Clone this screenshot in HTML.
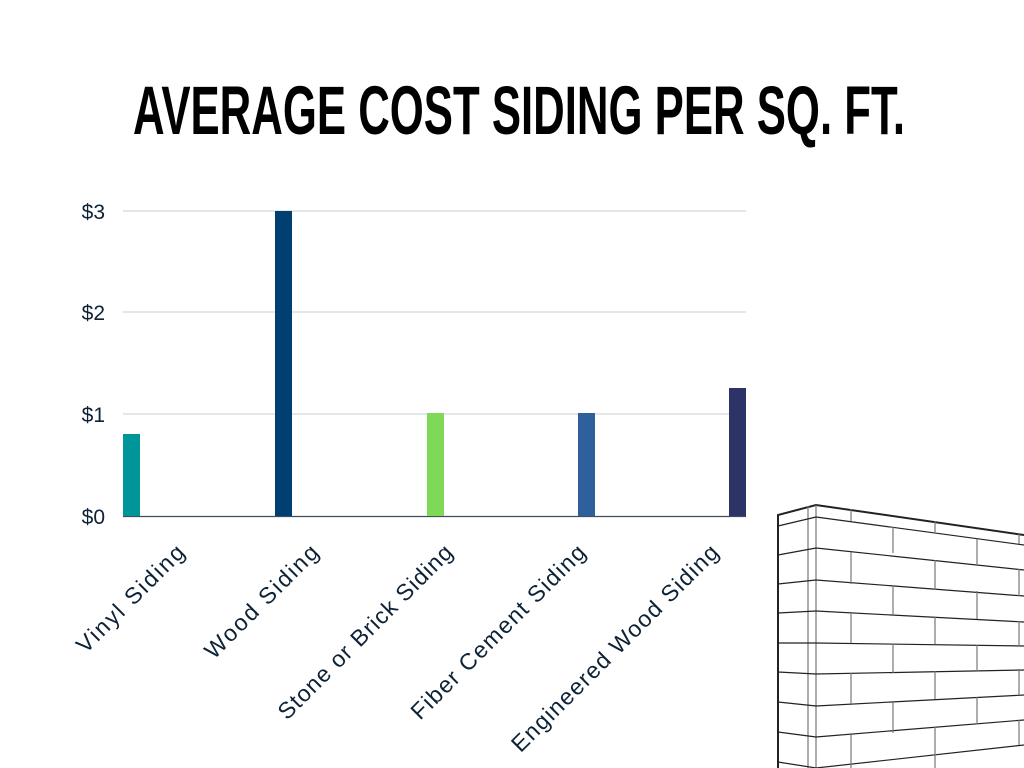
<!DOCTYPE html>
<html><head><meta charset="utf-8"><style>
body{margin:0;width:1024px;height:768px;background:#fff;overflow:hidden;position:relative;font-family:"Liberation Sans",sans-serif}
</style></head><body>
<svg width="1024" height="768" style="position:absolute;left:0;top:0">
<text x="133" y="134" font-family="Liberation Sans, sans-serif" font-weight="bold" font-size="69" textLength="772" lengthAdjust="spacingAndGlyphs" fill="#000">AVERAGE COST SIDING PER SQ. FT.</text>
<g stroke="#dcdfe3" stroke-width="1.5">
<line x1="123" y1="211" x2="746" y2="211"/>
<line x1="123" y1="312" x2="746" y2="312"/>
<line x1="123" y1="414" x2="746" y2="414"/>
</g>
<line x1="123" y1="516.5" x2="746" y2="516.5" stroke="#3d4e5c" stroke-width="1.2"/>
<g font-family="Liberation Sans, sans-serif" font-size="21" fill="#0d2236" text-anchor="end">
<text x="105" y="219">$3</text><text x="105" y="320">$2</text><text x="105" y="422">$1</text><text x="105" y="524">$0</text>
</g>
<rect x="123" y="434" width="17" height="82" fill="#009598"/>
<rect x="275" y="211" width="17" height="305" fill="#003f72"/>
<rect x="427" y="413" width="17" height="103" fill="#7ed957"/>
<rect x="578" y="413" width="17" height="103" fill="#2e609b"/>
<rect x="729" y="388" width="17" height="128" fill="#2d3367"/>
<g font-family="Liberation Sans, sans-serif" font-size="23" fill="#0d2236" text-anchor="end" lengthAdjust="spacingAndGlyphs">
<text transform="translate(186,554) rotate(-45)" textLength="142">Vinyl Siding</text>
<text transform="translate(320,554) rotate(-45)" textLength="150">Wood Siding</text>
<text transform="translate(454,554) rotate(-45)" textLength="236">Stone or Brick Siding</text>
<text transform="translate(587,554) rotate(-45)" textLength="236">Fiber Cement Siding</text>
<text transform="translate(720,554) rotate(-45)" textLength="282">Engineered Wood Siding</text>
</g>
<g stroke="#222" stroke-width="1.2" fill="none">
<polyline points="778,768 778,515 816,505 1024,535" stroke-width="2"/>
<line x1="808" y1="506" x2="808" y2="768" stroke="#777"/>
<line x1="816" y1="505" x2="816" y2="768" stroke="#777"/>
<line x1="778" y1="526" x2="816" y2="517"/><line x1="816" y1="517" x2="1024" y2="545"/>
<line x1="778" y1="555" x2="816" y2="548"/><line x1="816" y1="548" x2="1024" y2="570"/>
<line x1="778" y1="584" x2="816" y2="580"/><line x1="816" y1="580" x2="1024" y2="596"/>
<line x1="778" y1="613" x2="816" y2="611"/><line x1="816" y1="611" x2="1024" y2="622"/>
<line x1="778" y1="643" x2="816" y2="643"/><line x1="816" y1="643" x2="1024" y2="646"/>
<line x1="778" y1="672" x2="816" y2="674"/><line x1="816" y1="674" x2="1024" y2="670"/>
<line x1="778" y1="702" x2="816" y2="706"/><line x1="816" y1="706" x2="1024" y2="695"/>
<line x1="778" y1="732" x2="816" y2="737"/><line x1="816" y1="737" x2="1024" y2="720"/>
<line x1="778" y1="762" x2="816" y2="768"/><line x1="816" y1="768" x2="1024" y2="745"/>
</g>
<g stroke="#777" stroke-width="1.2">
<line x1="851" y1="509" x2="851" y2="521"/><line x1="935" y1="521" x2="935" y2="532"/><line x1="1019" y1="533" x2="1019" y2="544"/>
<line x1="893" y1="527" x2="893" y2="553"/><line x1="977" y1="539" x2="977" y2="564"/>
<line x1="851" y1="552" x2="851" y2="584"/><line x1="935" y1="560" x2="935" y2="590"/><line x1="1019" y1="569" x2="1019" y2="596"/>
<line x1="893" y1="585" x2="893" y2="615"/><line x1="977" y1="591" x2="977" y2="619"/>
<line x1="851" y1="613" x2="851" y2="643"/><line x1="935" y1="617" x2="935" y2="644"/><line x1="1019" y1="621" x2="1019" y2="646"/>
<line x1="893" y1="644" x2="893" y2="673"/><line x1="977" y1="645" x2="977" y2="671"/>
<line x1="851" y1="673" x2="851" y2="704"/><line x1="935" y1="671" x2="935" y2="699"/><line x1="1019" y1="669" x2="1019" y2="695"/>
<line x1="893" y1="702" x2="893" y2="733"/><line x1="977" y1="697" x2="977" y2="724"/>
<line x1="851" y1="735" x2="851" y2="768"/><line x1="935" y1="727" x2="935" y2="768"/><line x1="1019" y1="720" x2="1019" y2="745"/>
</g>
</svg>
</body></html>
